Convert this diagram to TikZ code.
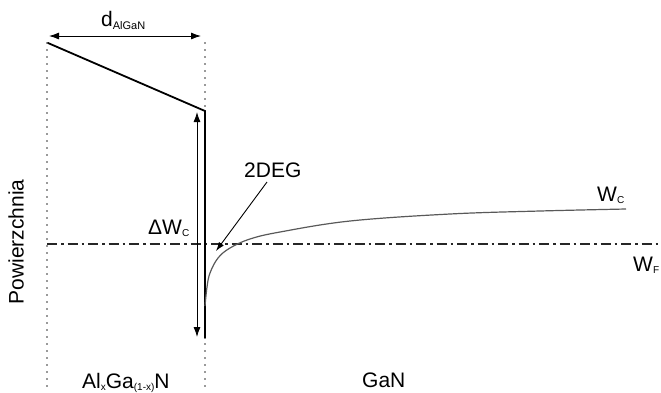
\documentclass[tikz,border=0pt]{standalone}
\usepackage{fontspec}
\setmainfont{Liberation Sans}
\usetikzlibrary{arrows.meta}
\newcommand{\mysub}[2][2.5pt]{{\fontsize{10}{10}\selectfont\raisebox{-#1}{#2}}}
\begin{document}
\begin{tikzpicture}[x=1pt,y=-1pt,
  lbl/.style={inner sep=0pt,anchor=base west,font=\fontsize{21}{24}\selectfont},
  dotline/.style={line width=1.6pt,line cap=round,dash pattern=on 0pt off 7pt,color=black!80},
  band/.style={line width=1.8pt,line cap=round},
  dimarrow/.style={line width=0.9pt,{Latex[length=10pt,width=7pt]}-{Latex[length=10pt,width=7pt]}},
  ptr/.style={line width=0.9pt,-{Latex[length=9pt,width=6pt]}},
  fermi/.style={line width=1.5pt,dash pattern=on 10pt off 4pt on 2.5pt off 4pt,color=black!85},
  curve/.style={line width=1.2pt,color=black!65}]
\useasboundingbox (0,0) rectangle (661,392);
% coordinates
\coordinate (lt) at (47,43);
\coordinate (lb) at (47,392);
\coordinate (rt) at (205,43);
\coordinate (rb) at (205,392);
\coordinate (s1) at (48,43);
\coordinate (s2) at (205,111);
\coordinate (vb) at (205,338);
\coordinate (da) at (49,36);
\coordinate (db) at (201,36);
\coordinate (ea) at (197,112);
\coordinate (eb) at (197,337);
\coordinate (fa) at (47,244);
\coordinate (fb) at (661,244);
\coordinate (ga) at (267,182);
\coordinate (gb) at (216,251);
% dotted boundaries
\draw[dotline] (lt) -- (lb);
\draw[dotline] (rt) -- (rb);
% Fermi level
\draw[fermi] (fa) -- (fb);
% band edge
\draw[band] (s1) -- (s2) -- (vb);
% conduction band in GaN
\draw[curve] plot[smooth,tension=0.6] coordinates {(205,306) (207,287) (210,273) (218,258) (230,248) (250,239) (280,232) (350,221) (450,214) (540,211) (626,209)};
% dimension arrows
\draw[dimarrow] (da) -- (db);
\draw[dimarrow] (ea) -- (eb);
% labels
\node[lbl] (dlab) at (101,26) {d\mysub[3pt]{\fontsize{11}{11}\selectfont AlGaN}};
\node[lbl] (deg) at (244,177) {2DEG};
\node[lbl] (dwc) at (148,234) {ΔW\mysub{C}};
\node[lbl] (wc) at (597,201) {W\mysub{C}};
\node[lbl] (wf) at (633,271) {W\mysub{F}};
\node[lbl] (algan) at (82,388) {Al\mysub{x}Ga\mysub{(1-x)}N};
\node[lbl] (gan) at (362,387) {GaN};
\node[inner sep=0pt,rotate=90,font=\fontsize{21}{24}\selectfont] (pow) at (16,242) {Powierzchnia};
\draw[ptr] (ga) -- (gb);
\end{tikzpicture}
\end{document}
